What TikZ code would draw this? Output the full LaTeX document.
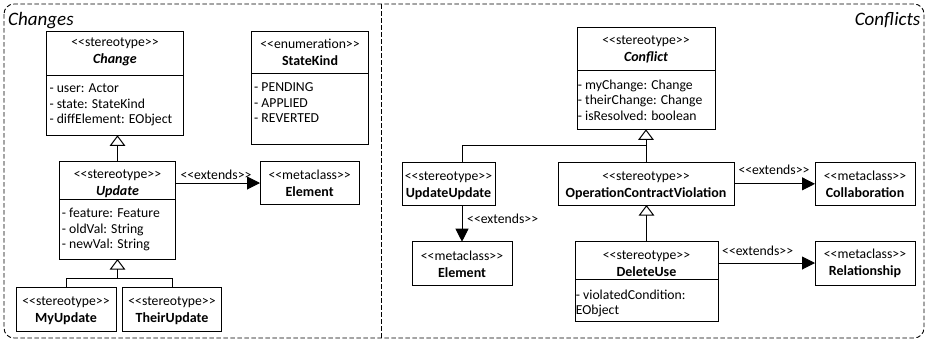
\documentclass[tikz,border=0pt]{standalone}
\usepackage{fontspec}
\setmainfont{Carlito}
\usetikzlibrary{arrows.meta}

% <<...>> written so that no ligature can form
\newcommand\stereo[1]{<{}<#1>{}>}
\newcommand\cname[1]{{\fontsize{14}{17}\selectfont\bfseries #1}}

\begin{document}
\begin{tikzpicture}[x=1pt, y=-1pt,
  cls/.style={draw, line width=1pt, inner sep=0pt, outer sep=0pt, anchor=north west},
  head/.style={inner sep=0pt, align=center, font=\fontsize{13.7}{17}\selectfont},
  attrs/.style={inner sep=0pt, anchor=north west, align=left, font=\fontsize{13.7}{15.5}\selectfont},
  conn/.style={line width=1pt},
  gen/.style={conn, -{Triangle[open, length=10.5pt, width=15.5pt]}},
  ext/.style={conn, -{Triangle[length=13pt, width=13pt]}},
  extlbl/.style={inner sep=0pt, anchor=west, font=\fontsize{13.7}{15}\selectfont},
  title/.style={inner sep=0pt, font=\fontsize{19}{21}\selectfont\itshape},
  frame/.style={line width=0.9pt, dash pattern=on 4.5pt off 2.5pt}
]
\useasboundingbox (0,0) rectangle (929,341);

% package frames
\draw[frame, rounded corners=10pt] (4,4) rectangle (924,338);
\draw[frame] (381,4) -- (381,338);
\node[title, anchor=base west] (changes-title) at (8,25) {Changes};
\node[title, anchor=base east] (conflicts-title) at (920.5,25) {Conflicts};

% ---------------- Changes ----------------
\node[cls, minimum width=136.6pt, minimum height=44pt] (change) at (46.7,31) {};
\node[head] (change-t) at ([yshift=1.5pt]change.center) {\stereo{stereotype}\\\cname{\itshape Change}};
\node[cls, minimum width=136.6pt, minimum height=60.3pt] (change-a) at (change.south west) {};
\node[attrs] (change-at) at ([xshift=2.6pt, yshift=-8.8pt]change-a.north west)
  {- user: Actor\\- state: StateKind\\- diffElement: EObject};

\node[cls, minimum width=116.6pt, minimum height=42.3pt] (statekind) at (251.7,31) {};
\node[head] (statekind-t) at (statekind.center) {\stereo{enumeration}\\\cname{StateKind}};
\node[cls, minimum width=116.6pt, minimum height=71pt] (statekind-a) at (statekind.south west) {};
\node[attrs] (statekind-at) at ([xshift=2.3pt, yshift=-9.5pt]statekind-a.north west)
  {- PENDING\\- APPLIED\\- REVERTED};

\node[cls, minimum width=116.4pt, minimum height=37.3pt] (update) at (59.3,161.7) {};
\node[head] (update-t) at ([yshift=-3.3pt]update.center) {\stereo{stereotype}\\\cname{\itshape Update}};
\node[cls, minimum width=116.4pt, minimum height=60pt] (update-a) at (update.south west) {};
\node[attrs] (update-at) at ([xshift=2.4pt, yshift=-9pt]update-a.north west)
  {- feature: Feature\\- oldVal: String\\- newVal: String};

\node[cls, minimum width=99.3pt, minimum height=42.6pt] (elemL) at (260,161.7) {};
\node[head] (elemL-t) at (elemL.center) {\stereo{metaclass}\\\cname{Element}};

\node[cls, minimum width=100pt, minimum height=44pt] (myupd) at (16,287.7) {};
\node[head] (myupd-t) at ([yshift=-1pt]myupd.center) {\stereo{stereotype}\\\cname{MyUpdate}};

\node[cls, minimum width=99.4pt, minimum height=44pt] (theirupd) at (122.3,287.7) {};
\node[head] (theirupd-t) at ([yshift=-1pt]theirupd.center) {\stereo{stereotype}\\\cname{TheirUpdate}};

% generalisations and extension
\draw[gen] (update.north) -- (update.north |- change-a.south);
\coordinate (uj) at (117.5,278.3);
\draw[conn] (myupd.north) |- (uj) -| (theirupd.north);
\draw[gen] (uj) -- (update-a.south);
\draw[ext] (update.east |- elemL.west) -- (elemL.west)
  node[extlbl, pos=0, xshift=4.3pt, yshift=8.2pt] (ext1) {\stereo{extends}};

% ---------------- Conflicts ----------------
\node[cls, minimum width=138pt, minimum height=43.4pt] (conflict) at (577,27.3) {};
\node[head] (conflict-t) at ([yshift=-0.9pt]conflict.center) {\stereo{stereotype}\\\cname{\itshape Conflict}};
\node[cls, minimum width=138pt, minimum height=58.6pt] (conflict-a) at (conflict.south west) {};
\node[attrs] (conflict-at) at ([xshift=0.7pt, yshift=-8.8pt]conflict-a.north west)
  {- myChange: Change\\- theirChange: Change\\- isResolved: boolean};

\node[cls, minimum width=93pt, minimum height=42.3pt] (updupd) at (402,162.7) {};
\node[head] (updupd-t) at ([yshift=-1.5pt]updupd.center) {\stereo{stereotype}\\\cname{UpdateUpdate}};

\node[cls, minimum width=176pt, minimum height=42.3pt] (ocv) at (558,162.7) {};
\node[head] (ocv-t) at ([yshift=-1.5pt]ocv.center) {\stereo{stereotype}\\\cname{OperationContractViolation}};

\node[cls, minimum width=100pt, minimum height=42.3pt] (collab) at (815,162.7) {};
\node[head] (collab-t) at ([yshift=-0.5pt]collab.center) {\stereo{metaclass}\\\cname{Collaboration}};

\node[cls, minimum width=100pt, minimum height=43.3pt] (elemR) at (412,241.7) {};
\node[head] (elemR-t) at ([yshift=-0.5pt]elemR.center) {\stereo{metaclass}\\\cname{Element}};

\node[cls, minimum width=143pt, minimum height=37.3pt] (deleteuse) at (575,241.7) {};
\node[head] (deleteuse-t) at ([yshift=-3.6pt]deleteuse.center) {\stereo{stereotype}\\\cname{DeleteUse}};
\node[cls, minimum width=143pt, minimum height=42.7pt] (deleteuse-a) at (deleteuse.south west) {};
\node[attrs] (deleteuse-at) at ([xshift=0.7pt, yshift=-10.5pt]deleteuse-a.north west)
  {- violatedCondition:\\EObject};

\node[cls, minimum width=100pt, minimum height=44pt] (relation) at (815,241) {};
\node[head] (relation-t) at (relation.center) {\stereo{metaclass}\\\cname{Relationship}};

% generalisations and extensions
\coordinate (cj) at (646,145.7);
\coordinate (uu-in) at (elemR.north |- updupd.north);
\draw[conn] (uu-in) |- (cj) -- (ocv.north);
\draw[gen] (cj) -- (conflict-a.south);
\draw[gen] (deleteuse.north) -- (deleteuse.north |- ocv.south);
\draw[ext] (elemR.north |- updupd.south) -- (elemR.north)
  node[extlbl, pos=0, xshift=4.7pt, yshift=-14pt] (ext2) {\stereo{extends}};
\draw[ext] (ocv.east) -- (collab.west)
  node[extlbl, pos=0, xshift=4pt, yshift=14pt] (ext3) {\stereo{extends}};
\draw[ext] (deleteuse.east |- relation.west) -- (relation.west)
  node[extlbl, pos=0, xshift=3.7pt, yshift=12pt] (ext4) {\stereo{extends}};
\end{tikzpicture}
\end{document}
